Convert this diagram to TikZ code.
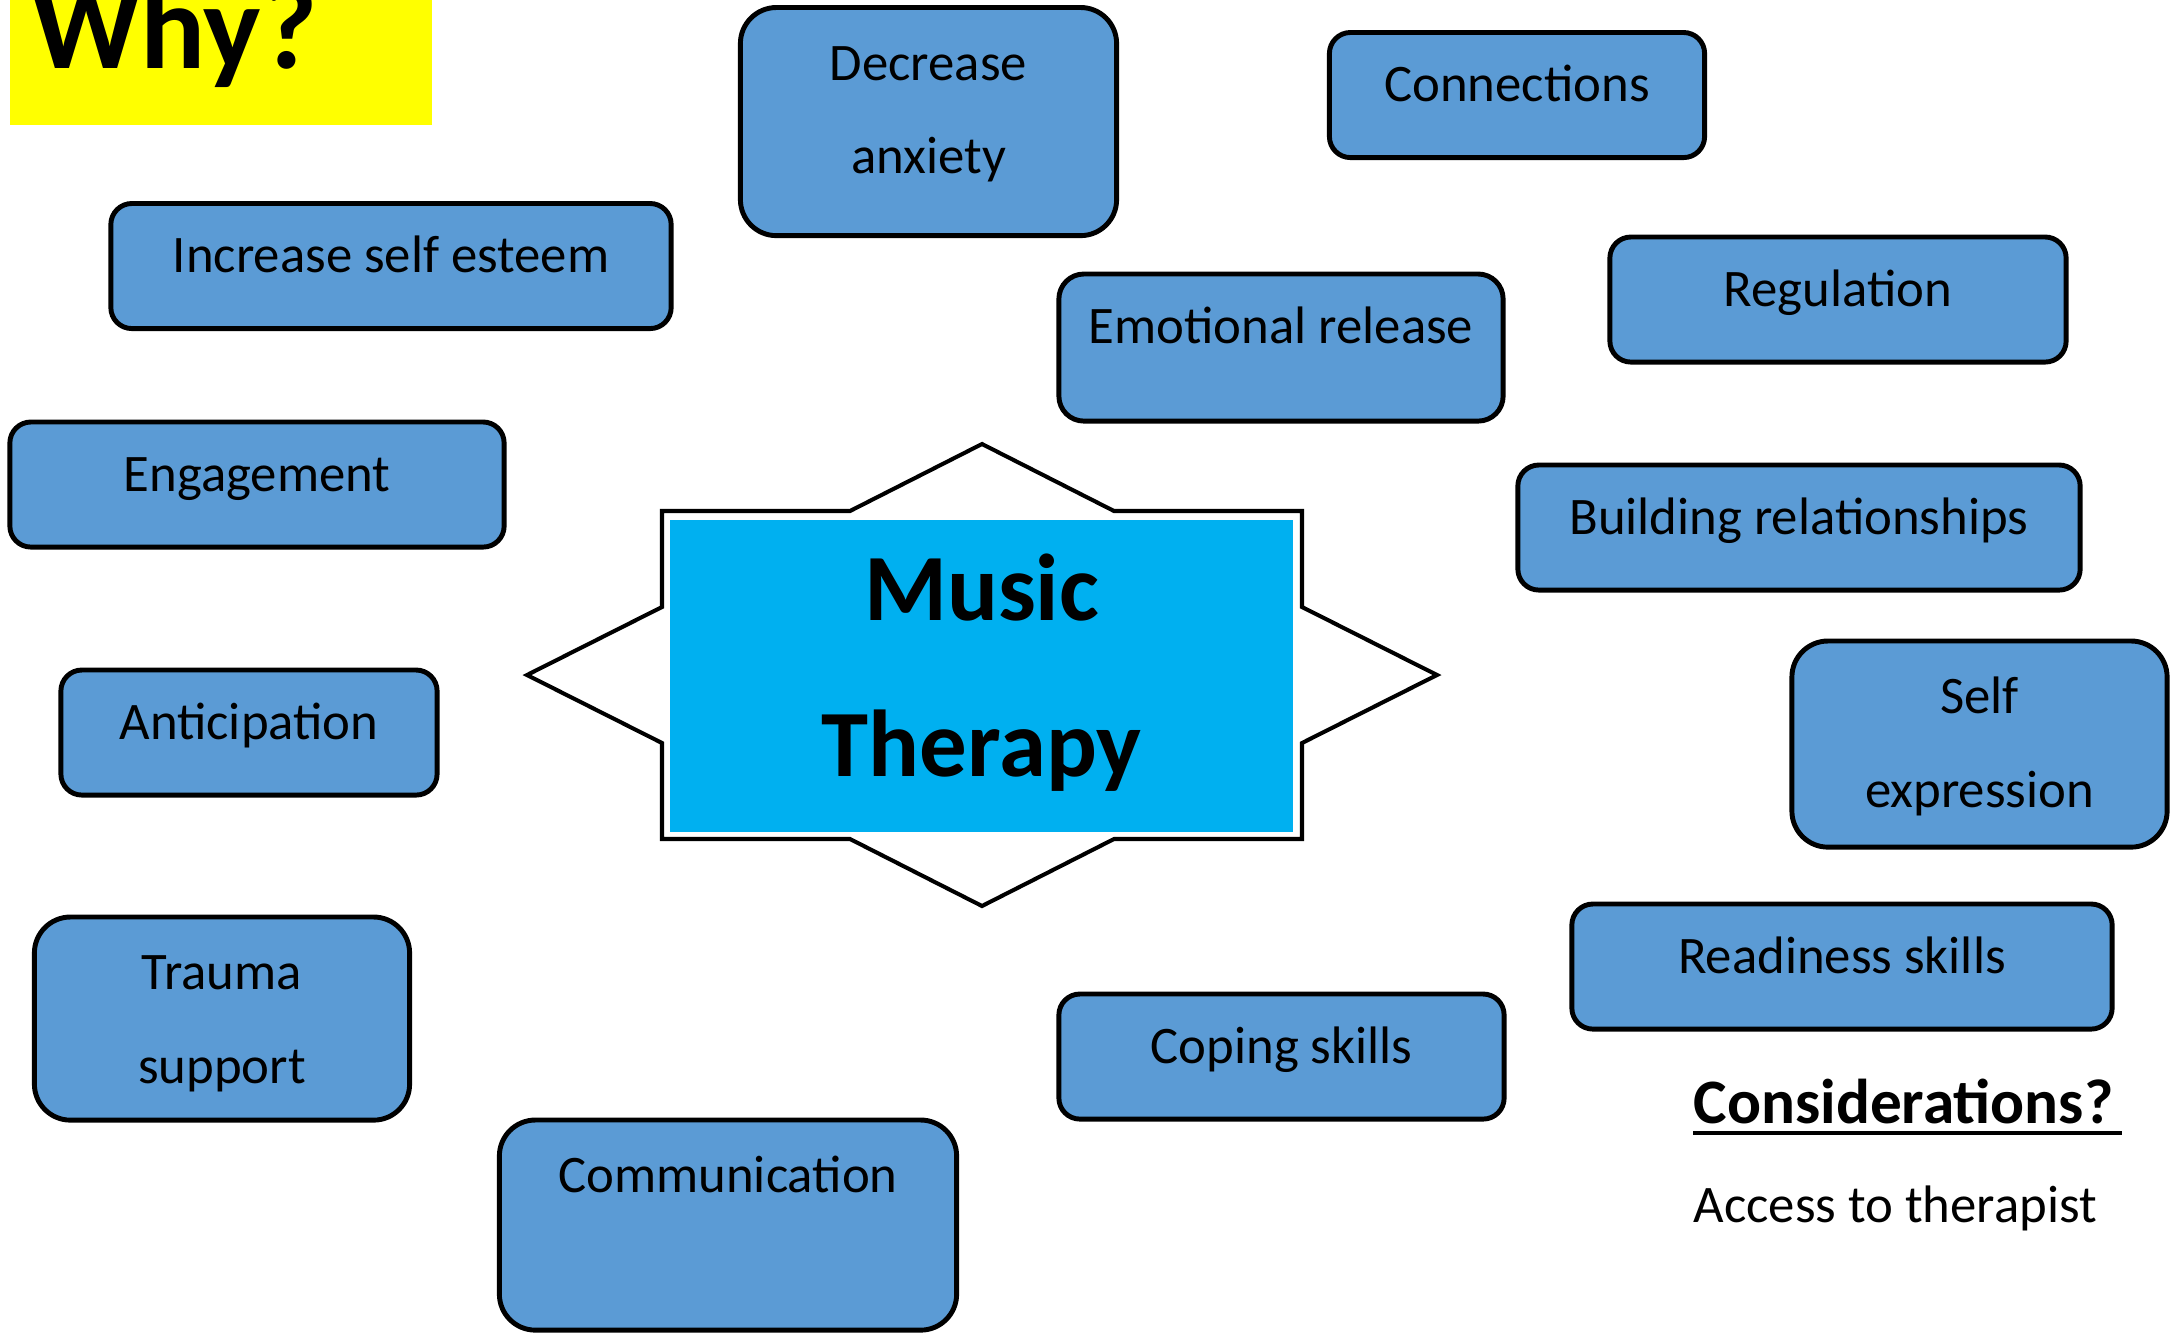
\documentclass[tikz,border=0pt]{standalone}
\usepackage{fontspec}
\setmainfont{Carlito}
\usepackage{tikz}
\usetikzlibrary{positioning}
\definecolor{tileblue}{HTML}{5B9BD5}
\definecolor{corecyan}{HTML}{00B0F0}
\definecolor{whyyellow}{HTML}{FFFF00}

\begin{document}
\begin{tikzpicture}[
  x=0.01cm,y=-0.01cm,
  tile/.style={draw=black,fill=tileblue,line width=1.4pt,rounded corners=0.21cm,anchor=north,
    inner xsep=0pt,inner ysep=0pt,outer sep=0pt,align=center,font=\fontsize{15pt}{26.5pt}\selectfont,
    text height=0.69cm,text depth=0.56cm},
  tall/.style={rounded corners=0.36cm,text height=1.66cm,text depth=#1},
  core/.style={fill=corecyan,inner sep=0pt,outer sep=0pt,anchor=north,align=center,
    font=\fontsize{27pt}{44.4pt}\selectfont\bfseries},
  starline/.style={draw=black,fill=white,line width=1.15pt,line join=miter},
  flag/.style={fill=whyyellow,anchor=north west,inner xsep=0.21cm,inner ysep=0pt,outer sep=0pt,align=left,
    font=\fontsize{34.5pt}{38pt}\selectfont\bfseries},
  note/.style={inner sep=0pt,anchor=base west}
]
  \useasboundingbox (0,0) rectangle (2170,1333);

  % title
  \node[flag,text width=3.80cm,text height=0.68cm,text depth=0.57cm] (why) at (10,0) {Why?};

  % centre star
  \draw[starline] (662,511) -- (850,511) -- (982,444) -- (1114,511) -- (1302,511) -- (1302,607)
    -- (1437,675) -- (1302,743) -- (1302,839) -- (1114,839) -- (982,906) -- (850,839)
    -- (662,839) -- (662,743) -- (527,675) -- (662,607) -- cycle;
  \node[core,minimum width=6.23cm,text height=2.56cm,text depth=0.56cm] (mt) at (981.5,520) {Music\\Therapy};

  % reasons
  \node[tile,tall=0.62cm,minimum width=3.76cm] (dec) at (928.5,7.5) {Decrease\\anxiety};
  \node[tile,minimum width=3.75cm] (conn) at (1517,32.5) {Connections};
  \node[tile,minimum width=5.60cm] (esteem) at (391,203.5) {Increase self esteem};
  \node[tile,minimum width=4.56cm] (regul) at (1838,237) {Regulation};
  \node[tile,rounded corners=0.25cm,text depth=0.78cm,minimum width=4.44cm] (emo) at (1281,274) {Emotional release};
  \node[tile,minimum width=4.94cm] (engage) at (257,422) {Engagement};
  \node[tile,minimum width=5.62cm] (build) at (1799,465) {Building relationships};
  \node[tile,minimum width=3.76cm] (antic) at (249,670) {Anticipation};
  \node[tile,tall=0.40cm,minimum width=3.75cm] (selfx) at (1979.5,641) {Self\\expression};
  \node[tile,minimum width=5.40cm] (ready) at (1842,904) {Readiness skills};
  \node[tile,tall=0.37cm,minimum width=3.75cm] (trauma) at (222,917) {Trauma\\support};
  \node[tile,minimum width=4.45cm] (coping) at (1281.5,994) {Coping skills};
  \node[tile,rounded corners=0.36cm,text height=0.72cm,text depth=1.38cm,minimum width=4.57cm] (comm) at (728,1120) {Communication};

  % considerations
  \node[note,font=\fontsize{18pt}{21pt}\selectfont\bfseries] (cons) at (1693,1123) {Considerations?};
  \draw[line width=1.4pt] ([yshift=-0.10cm]cons.base west) -- ([yshift=-0.10cm,xshift=0.08cm]cons.base east);
  \node[note,font=\fontsize{15pt}{18pt}\selectfont] (access) at ([yshift=-0.99cm]cons.base west) {Access to therapist};
\end{tikzpicture}
\end{document}
